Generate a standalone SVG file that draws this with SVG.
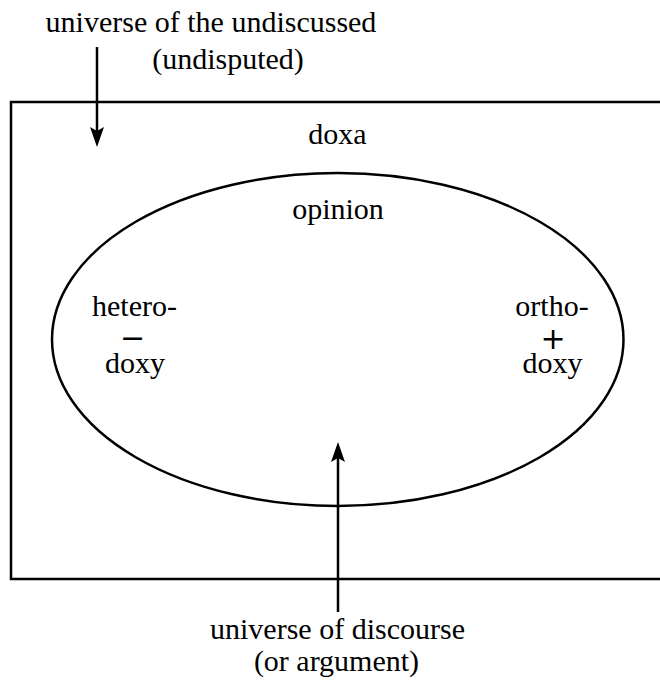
<svg xmlns="http://www.w3.org/2000/svg" width="660" height="682" viewBox="0 0 660 682">
<style>
  .t { font-family: "Liberation Serif", "Times New Roman", serif; font-size: 30px; fill: #000; text-anchor: middle; }
  .sign { font-family: "DejaVu Sans", sans-serif; font-size: 30px; }
  .shape { fill: none; stroke: #000; stroke-width: 2.5; }
  .conn { fill: none; stroke: #000; stroke-width: 2.5; }
</style>
<defs>
  <marker id="arrow" viewBox="0 0 20 14" refX="10" refY="7" markerWidth="20" markerHeight="14" markerUnits="userSpaceOnUse" orient="auto">
    <path d="M0,0 L20,7 L0,14 L4,7 Z" fill="#000"/>
  </marker>
</defs>
<rect width="660" height="682" fill="#fff"/>
<g id="doxa">
  <rect class="shape" x="11" y="102" width="670" height="477"/>
  <text class="t" x="337.5" y="144">doxa</text>
</g>
<g id="opinion">
  <ellipse class="shape" cx="337.75" cy="339.5" rx="285.75" ry="166.5"/>
  <text class="t" x="338" y="219">opinion</text>
</g>
<g id="heterodoxy">
  <text class="t"><tspan x="134.5" y="316">hetero-</tspan><tspan class="sign" x="132.5" y="348">−</tspan><tspan x="135" y="373">doxy</tspan></text>
</g>
<g id="orthodoxy">
  <text class="t"><tspan x="552" y="316">ortho-</tspan><tspan class="sign" x="553" y="348.5">+</tspan><tspan x="552.5" y="373">doxy</tspan></text>
</g>
<g id="undiscussed">
  <text class="t" x="211" y="32">universe of the undiscussed</text>
  <text class="t" x="228" y="69">(undisputed)</text>
</g>
<g id="discourse">
  <text class="t" x="337.5" y="639">universe of discourse</text>
  <text class="t" x="336.5" y="671">(or argument)</text>
</g>
<g id="connectors">
  <line class="conn" x1="97" y1="47" x2="97" y2="137" marker-end="url(#arrow)"/>
  <line class="conn" x1="338" y1="612" x2="338" y2="452" marker-end="url(#arrow)"/>
</g>
</svg>
